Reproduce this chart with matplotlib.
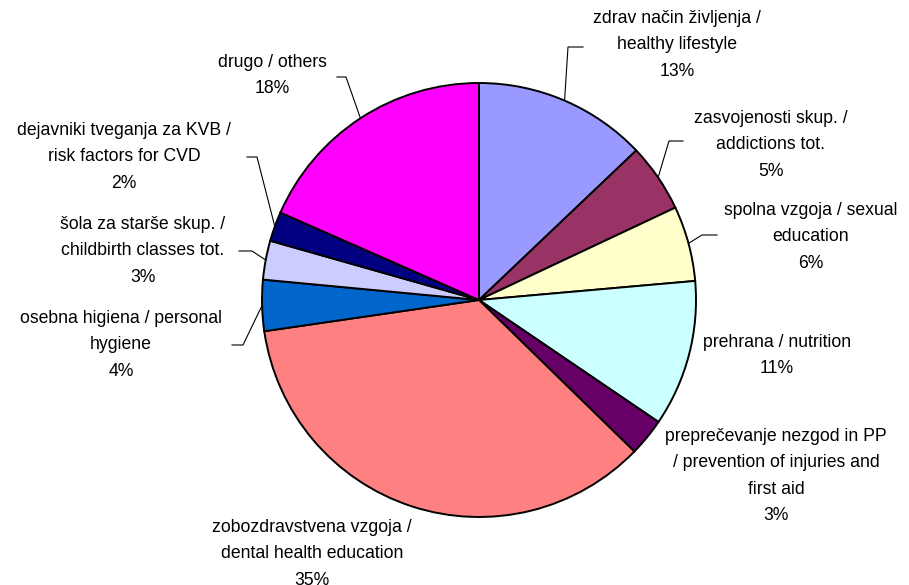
import matplotlib
matplotlib.use("Agg")
import matplotlib.pyplot as plt
import numpy as np

plt.rcParams['font.family'] = ['Liberation Sans', 'DejaVu Sans']

# Share of health education topics (%)
labels = [
    "zdrav način življenja /\nhealthy lifestyle",
    "zasvojenosti skup. /\naddictions tot.",
    "spolna vzgoja / sexual\neducation",
    "prehrana / nutrition",
    "preprečevanje nezgod in PP\n/ prevention of injuries and\nfirst aid",
    "zobozdravstvena vzgoja /\ndental health education",
    "osebna higiena / personal\nhygiene",
    "šola za starše skup. /\nchildbirth classes tot.",
    "dejavniki tveganja za KVB /\nrisk factors for CVD",
    "drugo / others",
]
values = [12.9, 5.1, 5.6, 10.9, 2.8, 35.4, 3.8, 2.9, 2.2, 18.4]
colors = ["#9999FF", "#993366", "#FFFFCC", "#CCFFFF", "#660066",
          "#FF8080", "#0066CC", "#CCCCFF", "#000080", "#FF00FF"]

# label block centre x / first line y (figure pixels)
label_pos = [(677, 18), (771, 118), (811, 210), (777, 342), (776, 436),
             (312, 527), (121, 318), (143, 224), (124, 130), (272, 62)]
# leader line elbow and end points; None where the label sits next to the pie
leaders = [((568, 47), (583, 47)), ((669, 141), (683, 141)),
           ((702, 235), (717, 235)), None, None, None,
           ((243, 345), (232, 345)), ((252, 251), (239, 251)),
           ((257, 157), (247, 157)), ((346, 77), (337, 77))]

W, H = 909, 585
fig = plt.figure(figsize=(W / 100, H / 100), dpi=100)
ax = fig.add_axes([0, 0, 1, 1])

cx, cy, r = 479, 300, 217
wedges, _ = ax.pie(values, colors=colors, startangle=-90, counterclock=True,
                   center=(cx, cy), radius=r,
                   wedgeprops=dict(edgecolor="black", linewidth=1.4))
ax.set_xlim(0, W)
ax.set_ylim(H, 0)
ax.set_aspect("equal")
ax.axis("off")

total = sum(values)
for i, w in enumerate(wedges):
    pct = values[i] / total * 100
    tx, ty = label_pos[i]
    bbox = None
    if i == 4:
        bbox = dict(facecolor="white", edgecolor="none", pad=2)
    ax.text(tx, ty - 8, f"{labels[i]}\n{pct:.0f}%", ha="center", va="top",
            fontsize=12.7, linespacing=1.72, color="black", zorder=5, bbox=bbox)
    if leaders[i] is not None:
        mid = np.deg2rad((w.theta1 + w.theta2) / 2)
        sx, sy = cx + r * np.cos(mid), cy + r * np.sin(mid)
        (ex, ey), (hx, hy) = leaders[i]
        ax.plot([sx, ex, hx], [sy, ey, hy], color="black", linewidth=0.8,
                zorder=4)

fig.savefig("out.png", dpi=100)
